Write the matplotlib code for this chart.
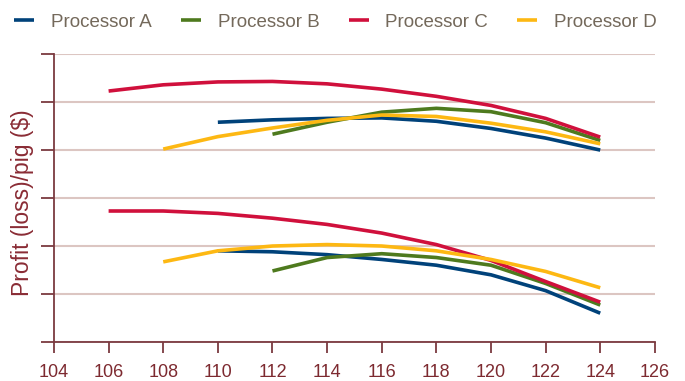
#!/usr/bin/env python3

import matplotlib
matplotlib.use("Agg")
import matplotlib.pyplot as plt

# Market weight (x) and profit per pig in grid units (y)
# upper group of curves
x_a_up = [110, 112, 114, 116, 118, 120, 122, 124]
y_a_up = [4.58, 4.63, 4.66, 4.67, 4.60, 4.45, 4.25, 4.00]
x_b_up = [112, 114, 116, 118, 120, 122, 124]
y_b_up = [4.33, 4.58, 4.79, 4.87, 4.80, 4.57, 4.20]
x_c_up = [106, 108, 110, 112, 114, 116, 118, 120, 122, 124]
y_c_up = [5.23, 5.36, 5.42, 5.43, 5.38, 5.27, 5.12, 4.93, 4.66, 4.27]
x_d_up = [108, 110, 112, 114, 116, 118, 120, 122, 124]
y_d_up = [4.02, 4.28, 4.46, 4.62, 4.73, 4.70, 4.56, 4.38, 4.13]

# lower group of curves
x_a_lo = [110, 112, 114, 116, 118, 120, 122, 124]
y_a_lo = [1.90, 1.88, 1.82, 1.72, 1.60, 1.40, 1.07, 0.60]
x_b_lo = [112, 114, 116, 118, 120, 122, 124]
y_b_lo = [1.48, 1.76, 1.84, 1.76, 1.60, 1.22, 0.77]
x_c_lo = [106, 108, 110, 112, 114, 116, 118, 120, 122, 124]
y_c_lo = [2.73, 2.73, 2.68, 2.58, 2.45, 2.27, 2.03, 1.70, 1.26, 0.83]
x_d_lo = [108, 110, 112, 114, 116, 118, 120, 122, 124]
y_d_lo = [1.67, 1.90, 2.00, 2.03, 2.00, 1.90, 1.72, 1.47, 1.13]

labels = ["Processor A", "Processor B", "Processor C", "Processor D"]
colors = ["#00427a", "#4e7a1e", "#d0103c", "#fdb813"]
x_ticks = list(range(104, 127, 2))

plt.rcParams["font.family"] = ["Liberation Sans", "DejaVu Sans"]

axis_col = "#7b3a40"
grid_col = "#dcc6c2"

fig = plt.figure(figsize=(6.85, 3.81), dpi=100)
ax = fig.add_axes([0.0788, 0.1024, 0.8772, 0.7556])

series = [
    (x_a_up, y_a_up, x_a_lo, y_a_lo),
    (x_b_up, y_b_up, x_b_lo, y_b_lo),
    (x_c_up, y_c_up, x_c_lo, y_c_lo),
    (x_d_up, y_d_up, x_d_lo, y_d_lo),
]
for (xu, yu, xl, yl), lab, col in zip(series, labels, colors):
    ax.plot(xu, yu, color=col, lw=2.6, solid_capstyle="butt",
            solid_joinstyle="round", label=lab, zorder=3)
    ax.plot(xl, yl, color=col, lw=2.6, solid_capstyle="butt",
            solid_joinstyle="round", zorder=3)

ax.set_xlim(104, 126)
ax.set_ylim(0, 6)
ax.set_xticks(x_ticks)
ax.set_yticks(range(0, 7))
ax.set_yticklabels([])
ax.grid(axis="y", color=grid_col, lw=1.5, zorder=0)
ax.tick_params(axis="x", length=8, width=1.3, color=axis_col,
               labelcolor="#7d2a30", labelsize=13, pad=7.5)
ax.tick_params(axis="y", length=9.5, width=1.3, color=axis_col)
for s in ["top", "right"]:
    ax.spines[s].set_visible(False)
for s in ["left", "bottom"]:
    ax.spines[s].set_color(axis_col)
    ax.spines[s].set_linewidth(1.3)

ax.set_ylabel("Profit (loss)/pig ($)", color="#8a2c35", fontsize=16.5,
              va="center")
ax.yaxis.set_label_coords(-0.0516, 0.483)

fig.legend(loc="center left", bbox_to_anchor=(-0.0036, 0.942), ncol=4,
           frameon=False, handlelength=1.07, handletextpad=0.9,
           columnspacing=1.54, fontsize=13.5, labelcolor="#74695b")

fig.savefig("out.png", dpi=100)
